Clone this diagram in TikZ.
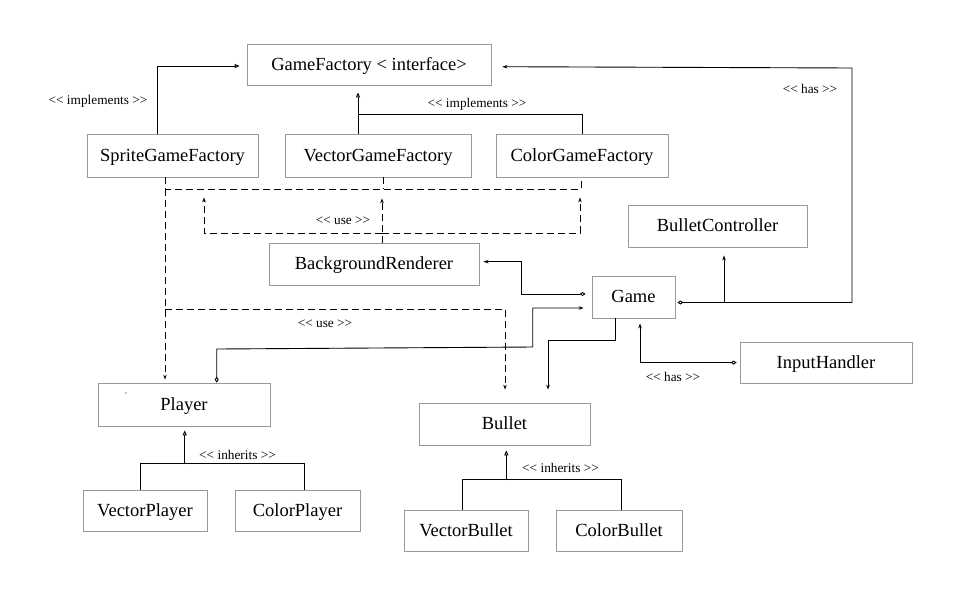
\documentclass[tikz,border=0pt]{standalone}
\usepackage{fontspec}
\setmainfont{Liberation Serif}
\usetikzlibrary{arrows.meta}
\newcommand\dlt{{<}{<}}
\newcommand\dgt{{>}{>}}
\begin{document}
\begin{tikzpicture}[x=1pt,y=-1pt,
  box/.style={draw=black!40,line width=0.8pt,inner sep=0pt,font=\fontsize{18.5}{22}\selectfont,text height=14pt,text depth=3pt},
  lbl/.style={inner sep=0pt,font=\fontsize{13.3}{15}\selectfont},
  ln/.style={line width=0.9pt},
  impl/.style={ln,-{Triangle[open,length=5pt,width=4pt]}},
  arr/.style={ln,-{Stealth[length=5pt,width=3.5pt]}},
  dia/.style={ln,{Diamond[open,length=6pt,width=4pt]}-{Stealth[length=5pt,width=3.5pt]}},
  dsh/.style={ln,dash pattern=on 7pt off 4pt},
  dsharr/.style={dsh,-{Stealth[length=5pt,width=3.5pt]}}]
\path[fill=white,use as bounding box] (0,0) rectangle (957,595);
% boxes
\node[box,minimum width=244pt,minimum height=41pt] (gf) at (369,64.5) {GameFactory < interface>};
\node[box,minimum width=171pt,minimum height=43pt] (sgf) at (172.5,155.5) {SpriteGameFactory};
\node[box,minimum width=186pt,minimum height=43pt] (vgf) at (378,155.5) {VectorGameFactory};
\node[box,minimum width=172pt,minimum height=43pt] (cgf) at (582,155.5) {ColorGameFactory};
\node[box,minimum width=179pt,minimum height=42pt] (bc) at (717.5,226) {BulletController};
\node[box,minimum width=210pt,minimum height=42pt] (br) at (374,264) {BackgroundRenderer};
\node[box,minimum width=83pt,minimum height=42pt] (game) at (633.5,297) {Game};
\node[box,minimum width=172pt,minimum height=41pt] (ih) at (826,362.5) {InputHandler};
\node[box,minimum width=172pt,minimum height=43pt] (player) at (184,404.5) {Player};
\node[box,minimum width=171pt,minimum height=42pt] (bullet) at (504.5,424) {Bullet};
\node[box,minimum width=124pt,minimum height=41pt] (vp) at (145,510.5) {VectorPlayer};
\node[box,minimum width=125pt,minimum height=41pt] (cp) at (297.5,510.5) {ColorPlayer};
\node[box,minimum width=124pt,minimum height=41pt] (vb) at (466,530.5) {VectorBullet};
\node[box,minimum width=126pt,minimum height=41pt] (cb) at (619,530.5) {ColorBullet};
\fill (126,393) circle (0.7pt);
% labels
\node[lbl] (l1) at (98,101) {\dlt{} implements \dgt};
\node[lbl] (l2) at (477,104) {\dlt{} implements \dgt};
\node[lbl] (l3) at (810,89) {\dlt{} has \dgt};
\node[lbl] (l4) at (343,221) {\dlt{} use \dgt};
\node[lbl] (l5) at (325,324) {\dlt{} use \dgt};
\node[lbl] (l6) at (673,377) {\dlt{} has \dgt};
\node[lbl] (l7) at (237.5,455) {\dlt{} inherits \dgt};
\node[lbl] (l8) at (560.5,467.7) {\dlt{} inherits \dgt};
% coordinates
\coordinate (j1) at (358,114);
\coordinate (hc1) at (852,302.5);
\coordinate (hc2) at (852,68);
\coordinate (hb) at (724,302.5);
\coordinate (pg1) at (216.7,349);
\coordinate (pg2) at (532.7,347);
\coordinate (pg3) at (532.7,308);
\coordinate (du1) at (165,189);
\coordinate (du2) at (581,189);
\coordinate (du3) at (165,309);
\coordinate (du4) at (383,189);
\coordinate (bu) at (382,233);
\coordinate (pi) at (184.7,464);
\coordinate (bi) at (506.3,480);
% implements
\draw[impl] ([xshift=-15.5pt]sgf.north) |- ([xshift=-7pt,yshift=-1.5pt]gf.west);
\draw[impl] ([xshift=-20pt]vgf.north) -- ([xshift=-11pt,yshift=-7pt]gf.south);
\draw[ln] (cgf.north) |- (j1);
% has (Game -> GameFactory, BulletController)
\draw[dia] ([xshift=2pt,yshift=-5.5pt]game.east) -- (hc1) -- (hc2) -- ([xshift=11pt,yshift=-2.2pt]gf.east);
\draw[arr] (hb) -- ([xshift=6.5pt,yshift=-8pt]bc.south);
% Game -> BackgroundRenderer
\draw[dia] ([xshift=-6pt,yshift=3pt]game.west) -- ++(-64.3pt,0) |- ([xshift=4pt,yshift=2.3pt]br.east);
% Player -> Game
\draw[dia] ([xshift=32.7pt]player.north) -- (pg1) -- (pg2) -- (pg3) -- ([xshift=-8pt,yshift=-11pt]game.west);
% Game -> Bullet
\draw[arr] ([xshift=-18.5pt]game.south) -- ++(0,-22pt) -| ([xshift=43.5pt,yshift=13pt]bullet.north);
% InputHandler -> Game
\draw[dia] ([xshift=-3pt]ih.west) -| ([xshift=6.5pt,yshift=-5pt]game.south);
% factories use Player / Bullet
\draw[dsh] ([xshift=-7.5pt]sgf.south) -- (du1) -- (du2) -- ([xshift=-1pt]cgf.south);
\draw[dsh] ([xshift=5pt]vgf.south) -- (du4);
\draw[dsharr] (du1) -- ([xshift=-19pt,yshift=3pt]player.north);
\draw[dsharr] (du3) -| ([xshift=0.5pt,yshift=13pt]bullet.north);
% BackgroundRenderer uses factories
\draw[dsharr] ([xshift=8pt]br.north) -- ([xshift=4pt,yshift=-21pt]vgf.south);
\draw[dsharr] (bu) -| ([xshift=31.5pt,yshift=-20pt]sgf.south);
\draw[dsharr] (bu) -| ([xshift=-2pt,yshift=-20pt]cgf.south);
% inherits
\draw[ln] ([xshift=-4.7pt]vp.north) -- ++(0,26pt) -| ([xshift=6.8pt]cp.north);
\draw[impl] (pi) -- ([xshift=0.7pt,yshift=-4pt]player.south);
\draw[ln] ([xshift=-3.3pt]vb.north) -- ++(0,30pt) -| ([xshift=2.7pt]cb.north);
\draw[impl] (bi) -- ([xshift=1.8pt,yshift=-5pt]bullet.south);
\end{tikzpicture}
\end{document}
